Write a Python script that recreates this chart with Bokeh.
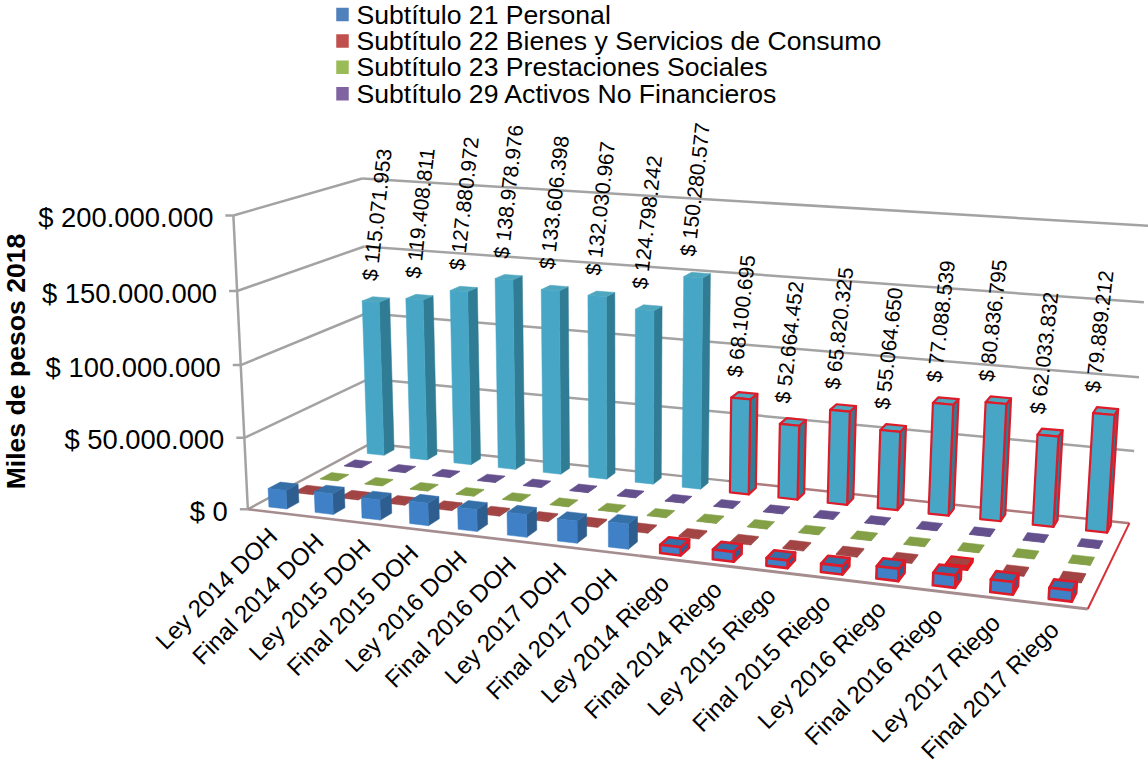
import numpy as np
from bokeh.core.properties import value
from bokeh.embed import file_html
from bokeh.models import Range1d
from bokeh.plotting import figure
from bokeh.resources import INLINE

categories = ["Ley 2014 DOH", "Final 2014 DOH", "Ley 2015 DOH", "Final 2015 DOH",
              "Ley 2016 DOH", "Final 2016 DOH", "Ley 2017 DOH", "Final 2017 DOH",
              "Ley 2014 Riego", "Final 2014 Riego", "Ley 2015 Riego", "Final 2015 Riego",
              "Ley 2016 Riego", "Final 2016 Riego", "Ley 2017 Riego", "Final 2017 Riego"]

personal = [13.0e6, 14.5e6, 14.0e6, 15.5e6, 15.0e6, 15.5e6, 15.0e6, 17.0e6,
            5.5e6, 6.5e6, 5.0e6, 5.5e6, 8.0e6, 8.0e6, 8.0e6, 7.0e6]
bienes = [0.8e6, 0.8e6, 0.8e6, 0.8e6, 0.8e6, 0.8e6, 0.8e6, 0.8e6,
          0.8e6, 0.8e6, 0.8e6, 0.8e6, 0.8e6, 2.2e6, 0.8e6, 0.8e6]
prestaciones = [0.3e6] * 16
activos = [0.3e6] * 16
inversion = [115071953, 119408811, 127880972, 138978976, 133606398, 132030967, 124798242, 150280577,
             68100695, 52664452, 65820325, 55064650, 77088539, 80836795, 62033832, 79889212]

y_ticks = [0, 50e6, 100e6, 150e6, 200e6]
y_tick_labels = ["$ 0", "$ 50.000.000", "$ 100.000.000", "$ 150.000.000", "$ 200.000.000"]
legend_labels = ["Subtítulo 21 Personal", "Subtítulo 22 Bienes y Servicios de Consumo",
                 "Subtítulo 23 Prestaciones Sociales", "Subtítulo 29 Activos No Financieros"]
legend_colors = ["#4F81BD", "#C0504D", "#9BBB59", "#8064A2"]

# (category position, depth 0..1, amount) -> page position, used to fit the camera
N = len(categories)
camera_marks = [
    (0, 0, 0, 250, 508), (0, 0, 50e6, 245, 436), (0, 0, 100e6, 240, 363), (0, 0, 150e6, 236, 291), (0, 0, 200e6, 230, 216),
    (0, 1, 0, 368, 445), (0, 1, 50e6, 367, 379), (0, 1, 100e6, 366, 313), (0, 1, 150e6, 365, 246), (0, 1, 200e6, 364, 177),
    (N, 1, 0, 1130, 522), (N, 1, 50e6, 1133, 449), (N, 1, 100e6, 1138, 375), (N, 1, 150e6, 1143, 301), (N, 1, 200e6, 1149, 228),
    (N, 0, 0, 1087, 611),
]


def fit_camera(marks):
    rows = []
    for X, Y, Z, u, v in marks:
        w = np.array([X / N, Y, Z / 200e6, 1.0])
        rows.append(np.r_[w, np.zeros(4), -u / 1000 * w])
        rows.append(np.r_[np.zeros(4), w, -v / 1000 * w])
    return np.linalg.svd(np.array(rows))[2][-1].reshape(3, 4)


CAMERA = fit_camera(camera_marks)


def project(X, Y, Z):
    h = CAMERA @ np.array([X / N, Y, Z / 200e6, 1.0])
    return float(h[0] / h[2] * 1000), float(h[1] / h[2] * 1000)


p = figure(width=1148, height=767, output_backend="svg", toolbar_location=None,
           x_range=Range1d(0, 1148), y_range=Range1d(767, 0), min_border=0,
           outline_line_color=None, background_fill_color="white", border_fill_color="white")
p.axis.visible = False
p.grid.visible = False

WALL = "#A3A3A3"


def line(a, b, color=WALL, width=2.5):
    p.line([a[0], b[0]], [a[1], b[1]], line_color=color, line_width=width)


# walls
for tick, label in zip(y_ticks, y_tick_labels):
    fl, bl, br = project(0, 0, tick), project(0, 1, tick), project(N, 1, tick)
    if tick > 0:
        line(fl, bl)
        line(bl, br)
    line((fl[0] - 8, fl[1]), fl)
    p.text([fl[0] - 20], [fl[1] + 2], text=[label], text_font=value("Liberation Sans"), text_font_size="27.4px",
           text_color="#000000", text_align="right", text_baseline="middle")
line(project(0, 0, 0), project(0, 0, 200e6))

# floor outline
FLOOR = "#A58C8E"
mid_back = project(8, 1, 0)
mid_front = project(8, 0, 0)
line(project(0, 0, 0), project(0, 1, 0), "#A39A9A", 2.5)
line(project(0, 1, 0), mid_back, "#A39A9A", 2.5)
line(mid_back, project(N, 1, 0), "#B0797C", 2.5)
line(project(0, 0, 0), mid_front, FLOOR, 2.5)
line(mid_front, project(N, 0, 0), FLOOR, 3)
line(project(N, 0, 0), project(N, 1, 0), "#D83038", 2)


def draw_bar(i, row, amount, front, side, top, edge=None, edge_width=1.5):
    x0, x1 = i + 0.3, i + 0.69
    d0, d1 = (row + 0.27) / 5, (row + 0.73) / 5
    faces = [
        ([(x1, d0, 0), (x1, d1, 0), (x1, d1, amount), (x1, d0, amount)], side),
        ([(x0, d0, amount), (x1, d0, amount), (x1, d1, amount), (x0, d1, amount)], top),
        ([(x0, d0, 0), (x1, d0, 0), (x1, d0, amount), (x0, d0, amount)], front),
    ]
    for corners, color in faces:
        pts = [project(*c) for c in corners]
        p.patch([q[0] for q in pts], [q[1] for q in pts], fill_color=color,
                line_color=edge or color, line_width=edge_width if edge else 0.5, line_join="round")


EDGE = "#DD1C2A"
rows = [
    (inversion, "#47A6C6", "#2F7C94", "#4FA7BF"),
    (activos, "#5F4A86", "#5F4A86", "#65508E"),
    (prestaciones, "#7E9B42", "#7E9B42", "#83A047"),
    (bienes, "#9C3F3F", "#8E3838", "#A34444"),
    (personal, "#3F80C6", "#2E5E90", "#356FA8"),
]
for r, (vals, front, side, top) in zip((4, 3, 2, 1, 0), rows):
    for i, amount in enumerate(vals):
        edge, w = None, 1.5
        if i >= 8 and r in (4, 0):
            edge, w = EDGE, 2.2 if r == 4 else 2.6
        if i == 13 and r == 1:
            edge, w = "#E8141C", 2.0
        draw_bar(i, r, amount, front, side, top, edge, w)

# value labels over the last row
for i, amount in enumerate(inversion):
    cx, cy = project(i + 0.55, 0.9, amount)
    text = "$ " + f"{amount:,}".replace(",", ".")
    p.text([cx - 9 - 0.5 * i], [cy - 19], text=[text], text_font=value("Liberation Sans"), text_font_size="21px",
           text_color="#000000", text_align="left", text_baseline="middle", angle=83.5, angle_units="deg")

# category labels
for i, name in enumerate(categories):
    cx, cy = project(i + 0.5, 0, 0)
    p.text([cx + 2 - 0.35 * i], [cy + 20], text=[name], text_font=value("Liberation Sans"), text_font_size="24.2px",
           text_color="#000000", text_align="right", text_baseline="middle", angle=45, angle_units="deg")

# axis title
p.text([15], [361], text=["Miles de pesos 2018"], text_font=value("Liberation Sans"), text_font_style="bold",
       text_font_size="26.6px", text_color="#000000", text_align="center", text_baseline="middle",
       angle=90, angle_units="deg")

# legend
for k, (label, color) in enumerate(zip(legend_labels, legend_colors)):
    y = 14 + 26.4 * k
    p.rect([342], [y], width=12.5, height=13.5, fill_color=color, line_color=None)
    p.text([356], [y], text=[label], text_font=value("Liberation Sans"), text_font_size="26.6px",
           text_color="#000000", text_align="left", text_baseline="middle")

open("out.html", "w").write(file_html(p, INLINE))
